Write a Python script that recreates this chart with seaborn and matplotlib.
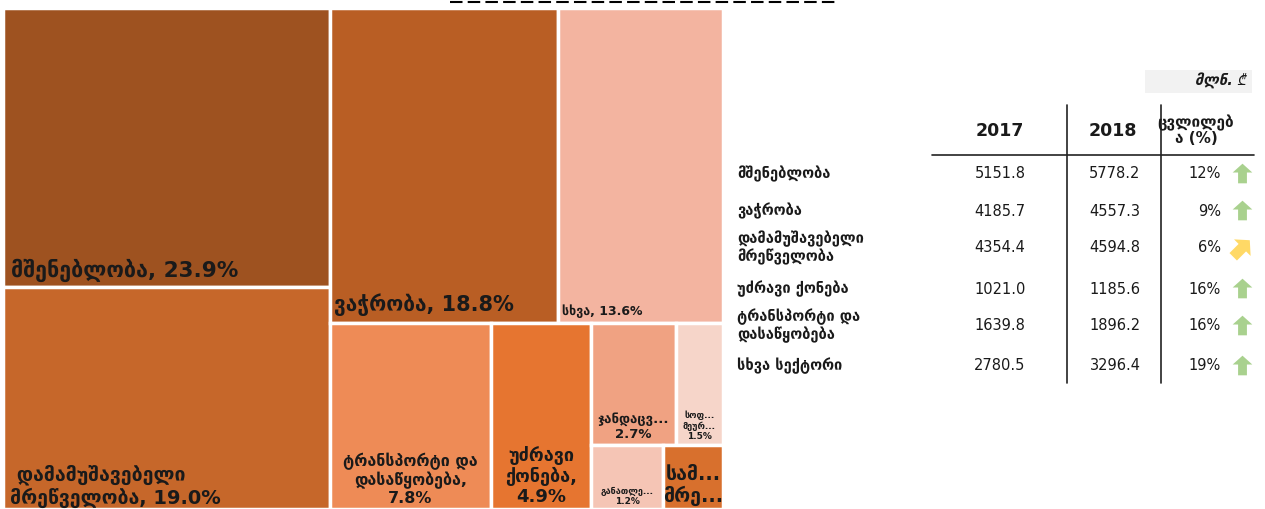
import matplotlib
matplotlib.use('Agg')
import numpy as np
import matplotlib.pyplot as plt
import seaborn as sns

sns.set_theme(style="white")
plt.rcParams['font.family'] = ['DejaVu Sans', 'Noto Sans']

# --- treemap data: share of sector (%) ---
sectors = ['მშენებლობა', 'დამამუშავებელი მრეწველობა', 'ვაჭრობა', 'სხვა',
           'ტრანსპორტი და დასაწყობება', 'უძრავი ქონება', 'ჯანდაცვა',
           'სოფლის მეურნეობა', 'განათლება', 'სამთომოპოვებითი მრეწველობა']
shares = [23.9, 19.0, 18.8, 13.6, 7.8, 4.9, 2.7, 1.5, 1.2, 1.0]
tile_names = ['მშენებლობა, ', ' დამამუშავებელი\nმრეწველობა, ', 'ვაჭრობა, ', 'სხვა, ',
              'ტრანსპორტი და\nდასაწყობება,\n', 'უძრავი\nქონება,\n', 'ჯანდაცვ...\n',
              'სოფ...\nმეურ...\n', 'განათლე...\n', 'სამ...\nმრე...']
show_pct = [True, True, True, True, True, True, True, True, True, False]
tile_colors = ['#9E5220', '#C6672A', '#B95E24', '#F3B4A0', '#EE8B56',
               '#E67530', '#F0A282', '#F6D5C9', '#F5C5B5', '#D8702D']

# --- table data (mln GEL) ---
row_names = ['მშენებლობა', 'ვაჭრობა', 'დამამუშავებელი\nმრეწველობა', 'უძრავი ქონება',
             'ტრანსპორტი და\nდასაწყობება', 'სხვა სექტორი']
v2017 = [5151.8, 4185.7, 4354.4, 1021.0, 1639.8, 2780.5]
v2018 = [5778.2, 4557.3, 4594.8, 1185.6, 1896.2, 3296.4]
change_pct = [12, 9, 6, 16, 16, 19]
trend = ['up', 'up', 'diag', 'up', 'up', 'up']
col_headers = ['2017', '2018', 'ცვლილებ\nა (%)']
unit_label = 'მლნ. ₾'

# treemap nesting (h = side by side, v = stacked), leaves are indices into shares
layout = ('h', [('v', [0, 1]),
                ('v', [('h', [2, 3]),
                       ('h', [4, 5, ('v', [('h', [6, 7]), ('h', [8, 9])])])])])


def node_sum(n):
    if isinstance(n, int):
        return shares[n]
    return sum(node_sum(k) for k in n[1])


def split(rect, node, out):
    x, y, w, h = rect
    if isinstance(node, int):
        out[node] = rect
        return
    kind, kids = node
    tot = node_sum(node)
    pos = 0.0
    for k in kids:
        f = node_sum(k) / tot
        if kind == 'h':
            split((x + pos * w, y, f * w, h), k, out)
        else:
            split((x, y + pos * h, w, f * h), k, out)
        pos += f


rects = {}
split((0.0, 0.0, 1.0, 1.0), layout, rects)

W, H = 1265, 509
fig = plt.figure(figsize=(W / 100, H / 100), dpi=100)

# --- treemap ---
ax = fig.add_axes([3 / W, 0, 720 / W, 501 / H])
ax.set_xlim(0, 1)
ax.set_ylim(1, 0)
ax.axis('off')

# label style per tile: (ha, fontsize, x offset pt, y offset pt)
label_style = [('left', 15.5, 6, 4), ('left', 14, 5, 1), ('left', 15, 3, 5), ('left', 9, 3, 4),
               ('center', 11.5, 0, 2), ('center', 13, 0, 2), ('center', 9.5, 0, 3),
               ('center', 6.5, 0, 3), ('center', 6.5, 0, 2), ('center', 14, 0, 2)]

for i in range(len(shares)):
    x, y, w, h = rects[i]
    ax.bar(x, h, width=w, bottom=y, align='edge', color=tile_colors[i],
           edgecolor='white', linewidth=2.5)
    txt = tile_names[i] + (f'{shares[i]:.1f}%' if show_pct[i] else '')
    ha, fs, dx, dy = label_style[i]
    xa = x if ha == 'left' else x + w / 2
    ax.annotate(txt, xy=(xa, y + h), xytext=(dx, dy), textcoords='offset points',
                ha=ha, va='bottom', fontsize=fs, fontweight='bold', color='#1a1a1a',
                multialignment='center' if ha == 'center' else 'left', linespacing=1.15)

# --- table overlay in pixel coordinates ---
tax = fig.add_axes([0, 0, 1, 1])
tax.set_xlim(0, W)
tax.set_ylim(H, 0)
tax.axis('off')

tax.plot([450, 835], [2, 2], color='black', lw=1.5, dashes=(6, 2.5))

tax.add_patch(plt.Rectangle((1145, 70), 107, 23, color='#F2F2F2', lw=0))
tax.text(1246, 81, unit_label, ha='right', va='center', fontsize=10.5, style='italic',
         fontweight='bold', color='#1a1a1a')

hdr_x = [1000, 1113, 1196]
hdr_fs = [12.5, 12.5, 11]
for hx, t, fs in zip(hdr_x, col_headers, hdr_fs):
    tax.text(hx, 131 if '\n' not in t else 130, t, ha='center', va='center', fontsize=fs,
             fontweight='bold', color='#1a1a1a', linespacing=1.0)

tax.plot([932, 1254], [155, 155], color='#222222', lw=1.2)
for vx in [1067, 1161]:
    tax.plot([vx, vx], [105, 383], color='#222222', lw=1.2)

row_y = [174, 211, 248, 289, 326, 366]
up = np.array([(0, 1), (-1, 0.1), (-0.45, 0.1), (-0.45, -1), (0.45, -1), (0.45, 0.1), (1, 0.1)])
ang = -np.pi / 4
rot = np.array([[np.cos(ang), -np.sin(ang)], [np.sin(ang), np.cos(ang)]])
diag = up @ rot.T

for ry, name, a, b, c, tr in zip(row_y, row_names, v2017, v2018, change_pct, trend):
    tax.text(737, ry, name, ha='left', va='center', fontsize=10.5, fontweight='bold',
             color='#1a1a1a', linespacing=1.1)
    tax.text(1000, ry, f'{a:.1f}', ha='center', va='center', fontsize=10.5, color='#1a1a1a')
    tax.text(1115, ry, f'{b:.1f}', ha='center', va='center', fontsize=10.5, color='#1a1a1a')
    tax.text(1221, ry, f'{c}%', ha='right', va='center', fontsize=10.5, color='#1a1a1a')
    if tr == 'up':
        tax.scatter([1242], [ry - 1], marker=up, s=200, color='#A9D18E', linewidths=0)
    else:
        tax.scatter([1241], [ry], marker=diag, s=300, color='#FFD966', linewidths=0)

fig.savefig('out.png', dpi=100)
